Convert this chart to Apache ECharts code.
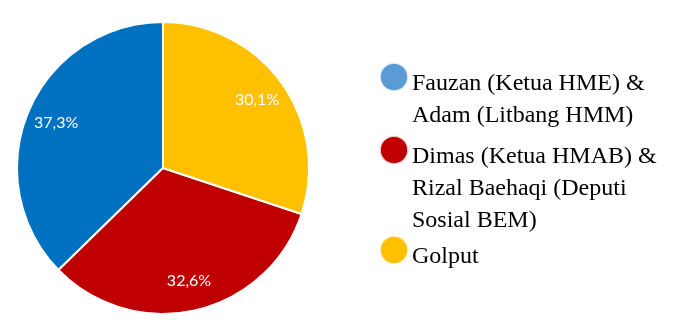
<!DOCTYPE html>
<html>
<head>
<meta charset="utf-8">
<script src="https://cdn.jsdelivr.net/npm/echarts@6/dist/echarts.min.js"></script>
<style>html,body{margin:0;padding:0;background:#fff}#c{width:678px;height:333px}</style>
</head>
<body>
<div id="c"></div>
<script>
const names = ['Fauzan (Ketua HME) & Adam (Litbang HMM)', 'Dimas (Ketua HMAB) & Rizal Baehaqi (Deputi Sosial BEM)', 'Golput'];
const legendLines = [
  ['Fauzan (Ketua HME) &', 'Adam (Litbang HMM)'],
  ['Dimas (Ketua HMAB) &', 'Rizal Baehaqi (Deputi', 'Sosial BEM)'],
  ['Golput']
];
const values = [37.3, 32.6, 30.1];
const sliceColors = ['#0070C0', '#C00000', '#FFC000'];
const iconColors = ['#5B9BD5', '#C00000', '#FFC000'];

const chart = echarts.init(document.getElementById('c'));
const LH = 32, FS = 24, DELTA = 7;
const iconCenters = [77, 150, 250];

const legends = names.map((n, i) => {
  const lines = legendLines[i].length;
  const pt = (lines - 1) * LH + 2 * DELTA;
  const boxH = pt + lines * LH;
  return {
    left: 381,
    top: iconCenters[i] - boxH / 2,
    orient: 'vertical',
    padding: 0,
    selectedMode: false,
    itemWidth: 26,
    itemHeight: 26,
    icon: 'circle',
    itemStyle: { borderWidth: 0 },
    data: [{
      name: n,
      itemStyle: { color: iconColors[i], borderWidth: 0, shadowBlur: 2, shadowColor: iconColors[i] }
    }],
    formatter: () => '{pad|\u00a0}\n' + legendLines[i].map(l => '{t|' + l + '}').join('\n'),
    textStyle: {
      fontFamily: 'Liberation Serif', fontSize: FS, lineHeight: LH, color: '#000',
      rich: {
        pad: { fontSize: 1, lineHeight: pt, height: pt },
        t: { fontFamily: 'Liberation Serif', fontSize: FS, lineHeight: LH, color: '#000' }
      }
    }
  };
});

const data = names.map((n, i) => ({ name: n, value: values[i], itemStyle: { color: sliceColors[i] } }));

chart.setOption({
  animation: false,
  legend: legends,
  series: [
    {
      type: 'pie',
      center: [163, 168],
      radius: [0, 146],
      startAngle: 90,
      clockwise: false,
      label: { show: false },
      labelLine: { show: false },
      itemStyle: { borderColor: '#fff', borderWidth: 2 },
      data: data,
      silent: true
    },
    {
      type: 'pie',
      center: [163, 168],
      radius: [80, 146],
      startAngle: 90,
      clockwise: false,
      silent: true,
      legendHoverLink: false,
      itemStyle: { color: 'rgba(0,0,0,0)' },
      label: {
        show: true,
        position: 'inside',
        color: '#fff',
        fontFamily: 'Lato',
        fontSize: 16,
        formatter: p => p.value.toFixed(1).replace('.', ',') + '%'
      },
      labelLine: { show: false },
      data: names.map((n, i) => ({ name: n, value: values[i] }))
    }
  ]
});
</script>
</body>
</html>
